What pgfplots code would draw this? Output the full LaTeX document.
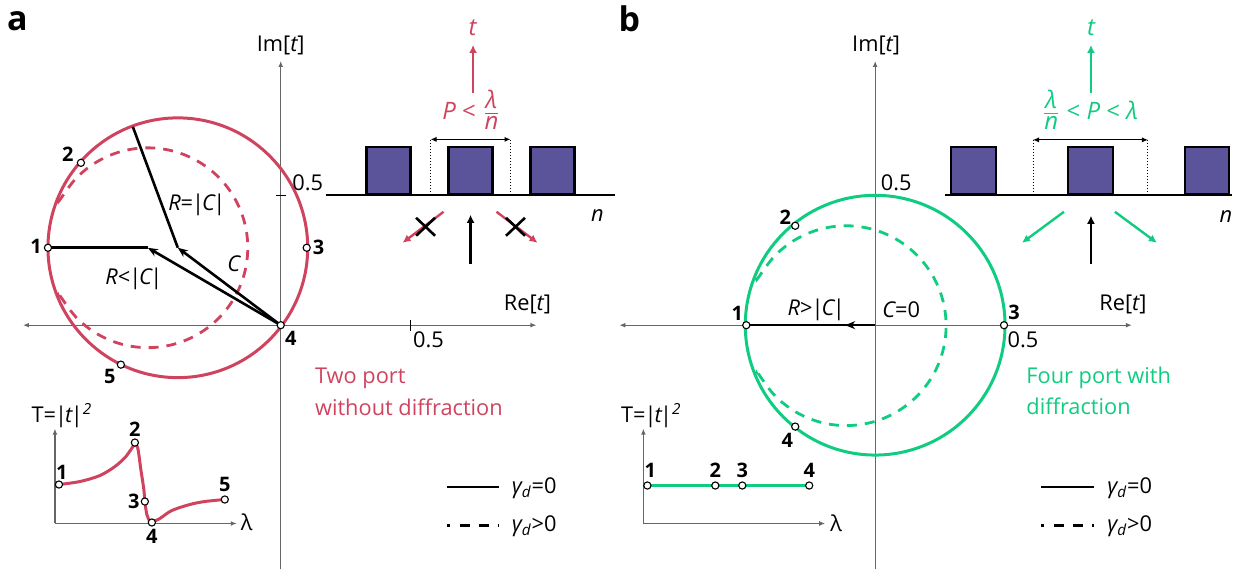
\documentclass[border=0pt]{standalone}
\usepackage{pgfplots}
\pgfplotsset{compat=1.18}
\usepackage{fontspec}
\setmainfont{Open Sans}
\usetikzlibrary{arrows.meta}
\definecolor{cred}{HTML}{D0435F}
\definecolor{cgreen}{HTML}{10CC80}
\definecolor{cpurple}{HTML}{5B549B}
\definecolor{cgrey}{HTML}{666666}
\newcommand{\sz}{\fontsize{10.9}{13}\selectfont}
\newcommand{\itt}[1]{{\itshape #1}}
\newcommand{\absv}[1]{\kern-0.5pt|\kern-1pt#1\kern-0.8pt|}
\newcommand{\lamn}{${\raisebox{0.8pt}{\itshape λ}\above0.6pt\raisebox{-1.2pt}{\itshape n}}$}
\tikzset{
  lab/.style={inner sep=0pt, font=\sz, text=black},
  big/.style={inner sep=0pt, font=\fontsize{12}{14}\selectfont},
  num/.style={inner sep=0pt, font=\fontsize{10}{12}\selectfont\bfseries, text=black},
  gax/.style={cgrey, line width=0.6pt, -{Latex[length=3pt,width=2.4pt]}},
  bigc/.style={line width=1.5pt, smooth cycle, tension=0.608},
  dashc/.style={line width=1.4pt, dash pattern=on 5pt off 4pt, {Stealth[length=3pt,width=2.6pt]}-{Stealth[length=3pt,width=2.6pt]}, smooth, tension=0.608},
  thk/.style={black, line width=1.3pt},
  arr/.style={line width=1.2pt, -{Latex[length=4pt,width=4pt]}},
  dots/.style={only marks, mark=*, mark size=1.8pt, mark options={fill=white, draw=black, line width=0.55pt}},
  rect/.style={fill=cpurple, draw=black, line width=1.3pt},
  dotl/.style={black, line width=0.5pt, densely dotted},
  span/.style={black, line width=0.55pt, {Latex[length=3pt,width=2.6pt]}-{Latex[length=3pt,width=2.6pt]}},
}
\begin{document}
\begin{tikzpicture}
\begin{axis}[
  scale only axis,
  width=616.5pt, height=285.5pt,
  xmin=0, xmax=1233, ymin=0, ymax=571,
  y dir=reverse,
  axis lines=none,
  clip=false,
]
% keeps the page as large as the whole frame
\addplot[draw=none] coordinates {(0,0) (1233,571)};
% panel a: axes
\addplot[gax] coordinates {(281,570) (281,61)};
\addplot[gax] coordinates {(281,325.5) (537,325.5)};
\addplot[gax] coordinates {(281,325.5) (23,325.5)};
\addplot[black, line width=0.6pt] coordinates {(276,195.5) (286,195.5)};
\addplot[black, line width=0.6pt] coordinates {(411,320) (411,331)};
% panel a: circles
\addplot[cred, bigc] coordinates {
  (308,248) (303.6,214.4) (290.6,183) (269.9,156.1) (243,135.4) (211.6,122.4)
  (178,118) (144.4,122.4) (113,135.4) (86.1,156.1) (65.4,183) (52.4,214.4)
  (48,248) (52.4,281.6) (65.4,313) (86.1,339.9) (113,360.6) (144.4,373.6)
  (178,378) (211.6,373.6) (243,360.6) (269.9,339.9) (290.6,313) (303.6,281.6)
};
\addplot[cred, dashc] coordinates {
  (58.1,204.2) (61.4,198) (77.3,177.3) (98,161.4) (122.1,151.4) (148,148)
  (173.9,151.4) (198,161.4) (218.7,177.3) (234.6,198) (244.6,222.1) (248,248)
  (244.6,273.9) (234.6,298) (218.7,318.7) (198,334.6) (173.9,344.6) (148,348)
  (122.1,344.6) (98,334.6) (77.3,318.7) (61.4,298) (58.1,291.8)
};
% panel a: radii
\addplot[thk] coordinates {(50,248) (148,248)};
\addplot[thk] coordinates {(178,248) (133,127)};
\addplot[thk, -{Stealth[length=5pt,width=4pt]}] coordinates {(281,325.5) (148,248)};
\addplot[thk, -{Stealth[length=5pt,width=4pt]}] coordinates {(281,325.5) (178,248)};
\addplot[dots] coordinates {(48,248) (81,163) (307,248) (281,325.5) (121,365)};
% panel a: grating
\addplot[rect] coordinates {(367,147) (411,147) (411,194) (367,194)} --cycle;
\addplot[rect] coordinates {(449,147) (493,147) (493,194) (449,194)} --cycle;
\addplot[rect] coordinates {(531,147) (575,147) (575,194) (531,194)} --cycle;
\addplot[black, line width=1.2pt] coordinates {(326,195) (616,195)};
\addplot[dotl] coordinates {(431,140) (431,194)};
\addplot[dotl] coordinates {(511,140) (511,194)};
\addplot[span] coordinates {(431,139.5) (511,139.5)};
\addplot[cred, arr] coordinates {(473.5,93) (473.5,45)};
\addplot[black, arr] coordinates {(471,264) (471,215)};
\addplot[cred, arr] coordinates {(444,212) (403,243)};
\addplot[cred, arr] coordinates {(497,212) (538,243)};
\addplot[thk] coordinates {(416.5,218) (435.5,236)};
\addplot[thk] coordinates {(435.5,218) (416.5,236)};
\addplot[thk] coordinates {(506.5,218) (525.5,236)};
\addplot[thk] coordinates {(525.5,218) (506.5,236)};
% panel a: legend
\addplot[black, line width=1.4pt] coordinates {(447,487.5) (499,487.5)};
\addplot[black, line width=1.2pt, dash pattern=on 1.5pt off 5pt on 5pt off 4.5pt on 5pt off 4.5pt on 1.5pt off 100pt] coordinates {(447,526) (499,526)};
% panel a: inset
\addplot[gax] coordinates {(55,524) (55,429)};
\addplot[gax] coordinates {(55,524) (237,524)};
\addplot[cred, line width=1.5pt, smooth] coordinates {
  (59,485) (80,482) (100,476) (115,467) (126,457) (135,444)
};
\addplot[cred, line width=1.5pt, smooth] coordinates {
  (135,444) (138,449) (141,470) (144,490) (145,502) (147,515) (150,522) (152,523)
};
\addplot[cred, line width=1.5pt, smooth] coordinates {
  (152,523) (160,519) (172,511) (190,505) (205,502) (225,500)
};
\addplot[dots] coordinates {(59,485) (135,443) (145,502) (152,523) (225,500)};
% panel b: axes
\addplot[gax] coordinates {(876,570) (876,61)};
\addplot[gax] coordinates {(876,325.5) (1133,325.5)};
\addplot[gax] coordinates {(876,325.5) (620,325.5)};
\addplot[black, line width=0.6pt] coordinates {(871,196) (881,196)};
% panel b: circles
\addplot[cgreen, bigc] coordinates {
  (1006,325.5) (1001.6,291.9) (988.6,260.5) (967.9,233.6) (941,212.9) (909.6,199.9)
  (876,195.5) (842.4,199.9) (811,212.9) (784.1,233.6) (763.4,260.5) (750.4,291.9)
  (746,325.5) (750.4,359.1) (763.4,390.5) (784.1,417.4) (811,438.1) (842.4,451.1)
  (876,455.5) (909.6,451.1) (941,438.1) (967.9,417.4) (988.6,390.5) (1001.6,359.1)
};
\addplot[cgreen, dashc] coordinates {
  (757.1,282.2) (760.4,276) (776.3,255.3) (797,239.4) (821.1,229.4) (847,226)
  (872.9,229.4) (897,239.4) (917.7,255.3) (933.6,276) (943.6,300.1) (947,326)
  (943.6,351.9) (933.6,376) (917.7,396.7) (897,412.6) (872.9,422.6) (847,426)
  (821.1,422.6) (797,412.6) (776.3,396.7) (760.4,376) (757.1,369.8)
};
\addplot[thk] coordinates {(850,325.5) (749,325.5)};
\addplot[thk, -{Stealth[length=5pt,width=4pt]}] coordinates {(876,325.5) (846,325.5)};
\addplot[dots] coordinates {(747,325.5) (796,226) (1005,325.5) (796,427)};
% panel b: grating
\addplot[rect] coordinates {(952,147) (997,147) (997,194) (952,194)} --cycle;
\addplot[rect] coordinates {(1069,147) (1114,147) (1114,194) (1069,194)} --cycle;
\addplot[rect] coordinates {(1186,147) (1230,147) (1230,194) (1186,194)} --cycle;
\addplot[black, line width=1.2pt] coordinates {(946,195) (1233,195)};
\addplot[dotl] coordinates {(1034,140) (1034,194)};
\addplot[dotl] coordinates {(1149,140) (1149,194)};
\addplot[span] coordinates {(1034,140) (1149,140)};
\addplot[cgreen, arr] coordinates {(1092,93) (1092,45)};
\addplot[black, arr] coordinates {(1092,264) (1092,216)};
\addplot[cgreen, arr] coordinates {(1065,212) (1023,243)};
\addplot[cgreen, arr] coordinates {(1116,212) (1158,243)};
% panel b: legend
\addplot[black, line width=1.4pt] coordinates {(1042,487.5) (1095,487.5)};
\addplot[black, line width=1.2pt, dash pattern=on 1.5pt off 5pt on 5pt off 4.5pt on 5pt off 4.5pt on 1.5pt off 100pt] coordinates {(1042,526) (1095,526)};
% panel b: inset
\addplot[gax] coordinates {(644,524) (644,429)};
\addplot[gax] coordinates {(644,524) (826,524)};
\addplot[cgreen, line width=1.3pt] coordinates {(648,486) (716,486) (743,486) (810,486)};
\addplot[dots] coordinates {(648,486) (716,486) (743,486) (810,486)};

% text, panel a
\node[inner sep=0pt, font=\fontsize{17}{19}\selectfont\bfseries] at (axis cs:17.5,21) {a};
\node[lab] at (axis cs:281,45) {Im[\itt{t}]};
\node[lab] at (axis cs:308,183) {0.5};
\node[lab] at (axis cs:528,305) {Re[\itt{t}]};
\node[lab] at (axis cs:429,340) {0.5};
\node[lab] at (axis cs:197,205) {\itt{R}=\absv{\itt{C}}};
\node[lab] at (axis cs:134,279) {\itt{R}<\absv{\itt{C}}};
\node[lab] at (axis cs:234,264) {\itt{C}};
\node[num] at (axis cs:36,247) {1};
\node[num] at (axis cs:68,154) {2};
\node[num] at (axis cs:319,248) {3};
\node[num] at (axis cs:291,339) {4};
\node[num] at (axis cs:110,377) {5};
\node[big, text=cred] at (axis cs:473,28) {\itt{t}};
\node[big, text=cred] at (axis cs:472,110) {\itt{P} < \lamn};
\node[lab] at (axis cs:598,216) {\itt{n}};
\node[lab, text=cred, anchor=west] at (axis cs:315,379) {Two port};
\node[lab, text=cred, anchor=west] at (axis cs:315,408) {without diffraction};
\node[lab, anchor=west] at (axis cs:512,489) {\itt{γ}\textsubscript{\itt{d}}=0};
\node[lab, anchor=west] at (axis cs:512,527) {\itt{γ}\textsubscript{\itt{d}}>0};
\node[lab] at (axis cs:62,416) {T=\absv{\itt{t}}\textsuperscript{\itt{2}}};
\node[lab] at (axis cs:247,523) {λ};
\node[num] at (axis cs:62,473) {1};
\node[num] at (axis cs:135,430) {2};
\node[num] at (axis cs:134,502) {3};
\node[num] at (axis cs:152,537) {4};
\node[num] at (axis cs:225,485) {5};
% text, panel b
\node[inner sep=0pt, font=\fontsize{17}{19}\selectfont\bfseries] at (axis cs:630,19) {b};
\node[lab] at (axis cs:877,45) {Im[\itt{t}]};
\node[lab] at (axis cs:897,183) {0.5};
\node[lab] at (axis cs:1124,305) {Re[\itt{t}]};
\node[lab] at (axis cs:1024,340) {0.5};
\node[lab] at (axis cs:817,310) {\itt{R}>\absv{\itt{C}}};
\node[lab] at (axis cs:902,310) {\itt{C}=0};
\node[num] at (axis cs:738,314) {1};
\node[num] at (axis cs:786,217) {2};
\node[num] at (axis cs:1015,313) {3};
\node[num] at (axis cs:788,441) {4};
\node[big, text=cgreen] at (axis cs:1092,28) {\itt{t}};
\node[big, text=cgreen] at (axis cs:1091,110) {\lamn{} < \itt{P} < \itt{λ}};
\node[lab] at (axis cs:1227,217) {\itt{n}};
\node[lab, text=cgreen, anchor=west] at (axis cs:1027,378) {Four port with};
\node[lab, text=cgreen, anchor=west] at (axis cs:1027,407) {diffraction};
\node[lab, anchor=west] at (axis cs:1108,489) {\itt{γ}\textsubscript{\itt{d}}=0};
\node[lab, anchor=west] at (axis cs:1108,527) {\itt{γ}\textsubscript{\itt{d}}>0};
\node[lab] at (axis cs:652,416) {T=\absv{\itt{t}}\textsuperscript{\itt{2}}};
\node[lab] at (axis cs:837,524) {λ};
\node[num] at (axis cs:651,471) {1};
\node[num] at (axis cs:716,471) {2};
\node[num] at (axis cs:743,471) {3};
\node[num] at (axis cs:810,471) {4};
\end{axis}
\end{tikzpicture}
\end{document}
